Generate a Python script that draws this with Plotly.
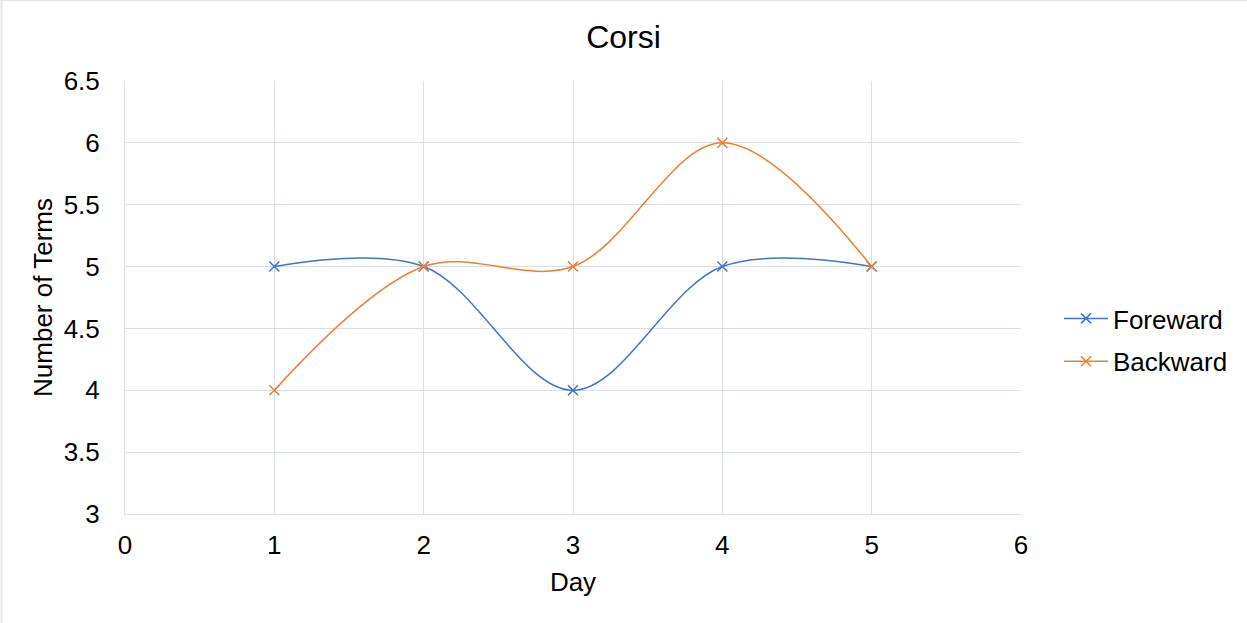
import plotly.graph_objects as go

days = [1, 2, 3, 4, 5]
foreward = [5, 5, 4, 5, 5]
backward = [4, 5, 5, 6, 5]
series_names = ["Foreward", "Backward"]
colors = ["#4472C4", "#ED7D31"]

W, H = 1247, 623
L, R, T, B = 125, 226, 81, 109
pw, ph = W - L - R, H - T - B

fig = go.Figure()
for name, vals, c in zip(series_names, [foreward, backward], colors):
    fig.add_trace(go.Scatter(
        x=days, y=vals, name=name, mode="lines+markers", legendgroup=name,
        line=dict(color=c, width=1.5, shape="spline", smoothing=1),
        marker=dict(symbol="x-thin", size=10, line=dict(color=c, width=1.5), color=c),
    ))

font = "Liberation Sans, Arial, sans-serif"
grid = "#d9dee8"
fig.update_layout(
    width=W, height=H,
    margin=dict(l=L, r=R, t=T, b=B, pad=0),
    paper_bgcolor="white", plot_bgcolor="white",
    font=dict(family=font, size=26, color="black"),
    title=dict(text="Corsi", x=0.5, xanchor="center", xref="container",
               y=1 - 37 / H, yanchor="middle", yref="container",
               font=dict(size=32, color="black")),
    xaxis=dict(range=[0, 6], dtick=1, tick0=0, showgrid=True, gridcolor=grid, gridwidth=1,
               showline=True, linecolor=grid, linewidth=1, zeroline=False,
               ticks="", ticklabelstandoff=8, tickfont=dict(size=26),
               title=dict(text="Day", standoff=13, font=dict(size=26))),
    yaxis=dict(range=[3, 6.5], dtick=0.5, tick0=3, showgrid=True, gridcolor=grid, gridwidth=1,
               showline=True, linecolor=grid, linewidth=1, zeroline=False,
               ticks="", ticklabelstandoff=19, tickfont=dict(size=26),
               title=dict(text="Number of Terms", standoff=3, font=dict(size=26))),
    legend=dict(x=(1059 - L) / pw, xanchor="left", y=(T + ph - 340) / ph, yanchor="middle",
                font=dict(size=26), bgcolor="rgba(0,0,0,0)", tracegroupgap=6, itemwidth=44),
    shapes=[
        dict(type="line", xref="paper", yref="paper", x0=-(L - 1.5) / pw, x1=-(L - 1.5) / pw,
             y0=(T + ph) / ph, y1=(T + ph - H) / ph, line=dict(color="#e4e6ec", width=2)),
        dict(type="line", xref="paper", yref="paper", x0=-(L) / pw, x1=(W - L) / pw,
             y0=(T + ph - 0.5) / ph, y1=(T + ph - 0.5) / ph, line=dict(color="#e4e6ec", width=1.5)),
    ],
)

fig.write_html("out.html")
